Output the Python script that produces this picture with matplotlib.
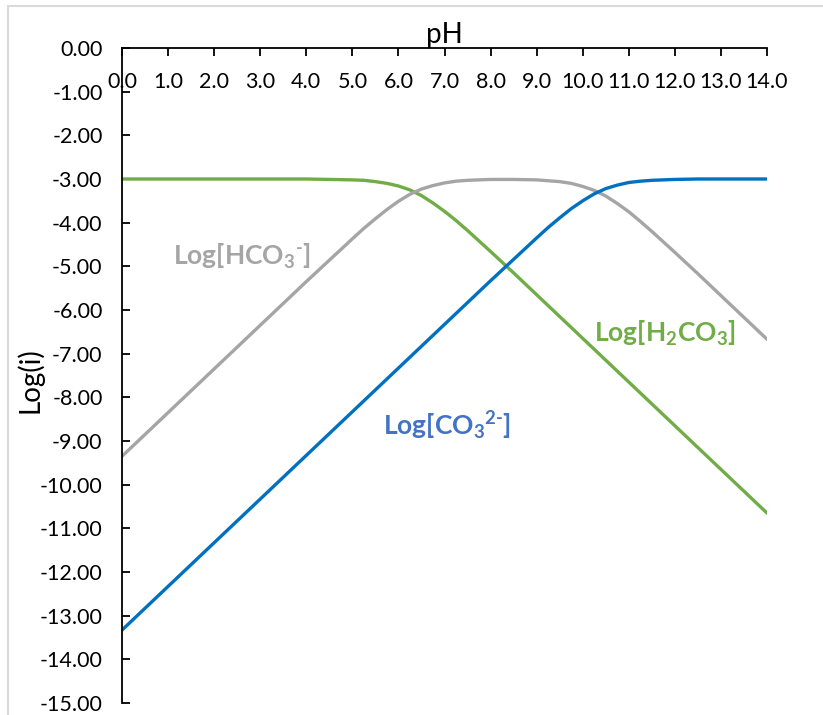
import matplotlib
matplotlib.use('Agg')
import matplotlib.pyplot as plt
from matplotlib.patches import Rectangle

plt.rcParams['font.family'] = 'Lato'
plt.rcParams['mathtext.fontset'] = 'custom'
plt.rcParams['mathtext.bf'] = 'Lato:bold'
plt.rcParams['mathtext.rm'] = 'Lato:bold'
plt.rcParams['mathtext.default'] = 'bf'

# pH grid and log concentrations (finer steps around the bends)
ph = [0.0, 0.5, 1.0, 1.5, 2.0, 2.5, 3.0, 3.5, 4.0, 4.5, 5.0,
      5.25, 5.5, 5.75, 6.0, 6.25, 6.5, 6.75, 7.0, 7.25, 7.5, 7.75,
      8.0, 8.5, 9.0,
      9.25, 9.5, 9.75, 10.0, 10.25, 10.5, 10.75, 11.0, 11.25, 11.5, 11.75,
      12.0, 12.5, 13.0, 13.5, 14.0]
log_h2co3 = [-3.00, -3.00, -3.00, -3.00, -3.00, -3.00, -3.00, -3.00, -3.00, -3.01, -3.02,
             -3.03, -3.06, -3.10, -3.16, -3.25, -3.38, -3.55, -3.74, -3.95, -4.18, -4.42,
             -4.66, -5.15, -5.65,
             -5.90, -6.15, -6.40, -6.65, -6.90, -7.15, -7.40, -7.65, -7.90, -8.15, -8.40,
             -8.65, -9.15, -9.65, -10.15, -10.65]
log_hco3 = [-9.35, -8.85, -8.35, -7.85, -7.35, -6.85, -6.35, -5.85, -5.35, -4.86, -4.37,
            -4.13, -3.91, -3.70, -3.51, -3.35, -3.23, -3.15, -3.09, -3.05, -3.03, -3.02,
            -3.01, -3.01, -3.02,
            -3.04, -3.06, -3.10, -3.17, -3.26, -3.39, -3.56, -3.75, -3.97, -4.20, -4.44,
            -4.68, -5.17, -5.67, -6.17, -6.67]
log_co3 = [-13.33, -12.83, -12.33, -11.83, -11.33, -10.83, -10.33, -9.83, -9.33, -8.83, -8.33,
           -8.08, -7.83, -7.58, -7.33, -7.08, -6.83, -6.58, -6.33, -6.08, -5.83, -5.58,
           -5.33, -4.84, -4.35,
           -4.11, -3.89, -3.68, -3.50, -3.34, -3.22, -3.14, -3.08, -3.05, -3.03, -3.02,
           -3.01, -3.00, -3.00, -3.00, -3.00]

xticks = [0, 1, 2, 3, 4, 5, 6, 7, 8, 9, 10, 11, 12, 13, 14]
yticks = [0, -1, -2, -3, -4, -5, -6, -7, -8, -9, -10, -11, -12, -13, -14, -15]

fig = plt.figure(figsize=(8.23, 7.15), dpi=100)
fig.patches.append(Rectangle((8 / 823, -0.01), 1.0, 1 - 6 / 715 + 0.01, transform=fig.transFigure,
                             fill=False, edgecolor='#d9d9d9', linewidth=1.5))
ax = fig.add_axes([122 / 823, 1 - 703 / 715, (767 - 122) / 823, (703 - 48) / 715])

ax.plot(ph, log_h2co3, color='#70ad47', linewidth=2.4, solid_capstyle='round')
ax.plot(ph, log_hco3, color='#a5a5a5', linewidth=2.4, solid_capstyle='round')
ax.plot(ph, log_co3, color='#0070c0', linewidth=2.4, solid_capstyle='round')

ax.set_xlim(0, 14)
ax.set_ylim(-15, 0)
ax.spines['bottom'].set_position(('data', 0))
ax.spines['top'].set_visible(False)
ax.spines['right'].set_visible(False)
for s in ['bottom', 'left']:
    ax.spines[s].set_linewidth(1.3)
ax.set_xticks(xticks)
ax.set_xticklabels(['%.1f' % v for v in xticks])
ax.set_yticks(yticks)
ax.set_yticklabels(['%.2f' % v if v != 0 else '0.00' for v in yticks])
ax.tick_params(axis='x', direction='out', length=6, width=1.3, labelsize=15.5, pad=11)
ax.tick_params(axis='y', direction='in', length=6, width=1.3, labelsize=15.5, pad=14)

ax.set_title('pH', fontsize=20, pad=2)
ax.set_ylabel('Log(i)', fontsize=20)
ax.yaxis.set_label_coords(-0.121, 0.493)

ax.text(2.61, -4.97, r'Log[HCO$_3{}^{\text{-}}$]', color='#a5a5a5', fontsize=19, fontweight='bold',
        ha='center', va='baseline')
ax.text(11.79, -6.73, r'Log[H$_2$CO$_3$]', color='#70ad47', fontsize=19, fontweight='bold',
        ha='center', va='baseline')
ax.text(7.05, -8.86, r'Log[CO$_3{}^{2\text{-}}$]', color='#4472c4', fontsize=19, fontweight='bold',
        ha='center', va='baseline')

fig.savefig('out.png', dpi=100)
